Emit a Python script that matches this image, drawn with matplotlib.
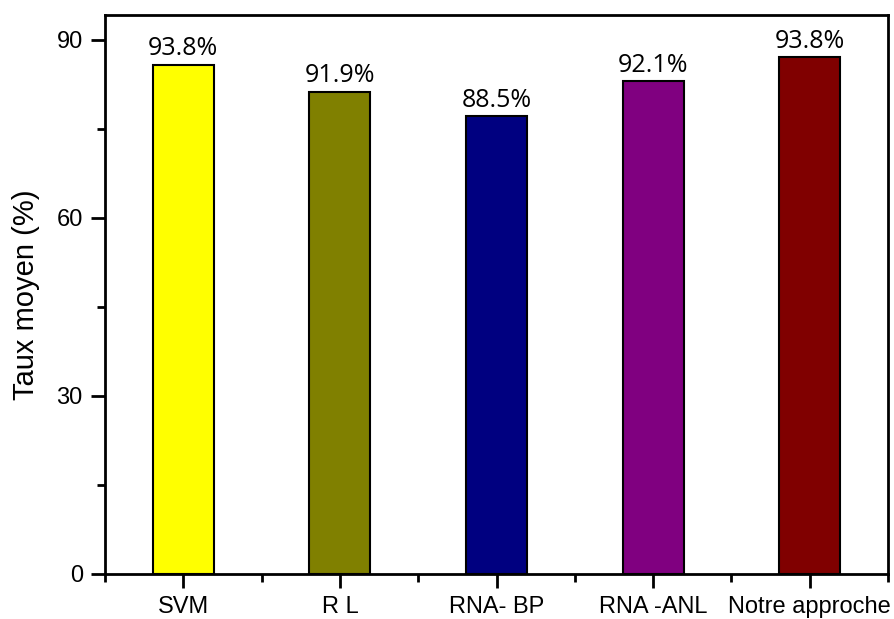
import matplotlib.pyplot as plt
from matplotlib.ticker import MultipleLocator, FixedLocator

methods = ["SVM", "R L", "RNA- BP", "RNA -ANL", "Notre approche"]
heights = [85.8, 81.3, 77.1, 83.0, 87.1]
labels = ["93.8%", "91.9%", "88.5%", "92.1%", "93.8%"]
colors = ["#FFFF00", "#808000", "#000080", "#800080", "#800000"]

plt.rcParams['font.family'] = ['Liberation Sans', 'DejaVu Sans']

fig = plt.figure(figsize=(8.95, 6.19), dpi=100)
ax = fig.add_axes([105 / 895, 1 - 574 / 619, 783 / 895, 559 / 619])

x = list(range(len(methods)))
bars = ax.bar(x, heights, width=0.39, color=colors, edgecolor="black", linewidth=1.5, zorder=3)

for b, lab in zip(bars, labels):
    ax.text(b.get_x() + b.get_width() / 2, b.get_height() + 0.6, lab,
            ha="center", va="bottom", fontsize=18, family=["Open Sans", "DejaVu Sans"])

ax.set_xlim(-0.5, 4.5)
ax.set_ylim(0, 94.2)
ax.set_xticks(x)
ax.set_xticklabels(methods, fontsize=17)
ax.xaxis.set_minor_locator(FixedLocator([i - 0.5 for i in range(6)]))
ax.yaxis.set_major_locator(MultipleLocator(30))
ax.yaxis.set_minor_locator(MultipleLocator(15))
ax.tick_params(axis="y", labelsize=17)
ax.tick_params(which="major", direction="out", length=10, width=2, pad=6)
ax.tick_params(which="minor", direction="out", length=6, width=2)
ax.set_ylabel("Taux moyen (%)", fontsize=21, labelpad=12)

for s in ax.spines.values():
    s.set_linewidth(2)

fig.savefig("out.png", dpi=100)
